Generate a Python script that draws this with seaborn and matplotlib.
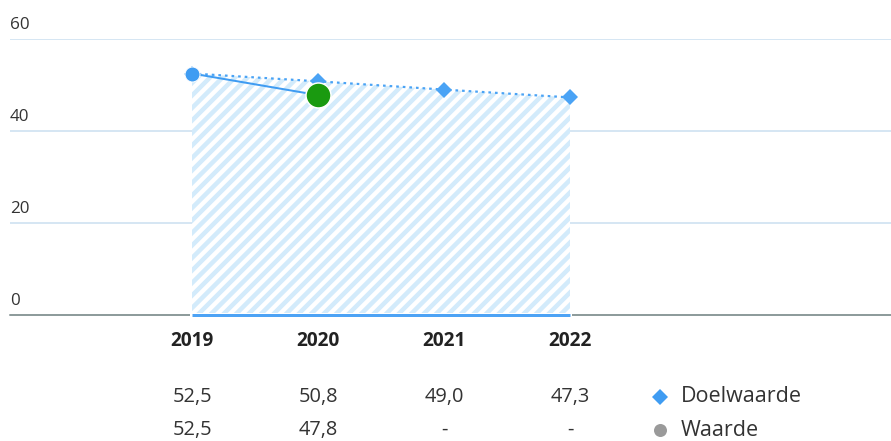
import matplotlib
matplotlib.use("Agg")
import matplotlib.pyplot as plt
import matplotlib.transforms as mtransforms
from matplotlib.lines import Line2D
import seaborn as sns
import pandas as pd
import numpy as np

years = ["2019", "2020", "2021", "2022"]
doelwaarde = [52.5, 50.8, 49.0, 47.3]
waarde = [52.5, 47.8, np.nan, np.nan]
doel_labels = ["52,5", "50,8", "49,0", "47,3"]
waarde_labels = ["52,5", "47,8", "-", "-"]
yticks = [0, 20, 40, 60]

DPI = 75
def px(v):
    return v * 72.0 / DPI

sns.set_theme(style="white")
plt.rcParams["font.family"] = ["Open Sans", "DejaVu Sans"]
plt.rcParams["hatch.color"] = "#d3ebfb"
plt.rcParams["hatch.linewidth"] = px(4.5)

W, H = 891, 441
fig = plt.figure(figsize=(W / DPI, H / DPI), dpi=DPI)
ax = fig.add_axes([10 / W, (H - 315) / H, 881 / W, 276 / H])

xpos = np.arange(len(years))
df = pd.DataFrame({"x": xpos, "doel": doelwaarde, "waarde": waarde})

blue = "#3f9cf2"
green = "#1a9a10"

# hatched area under target
ax.fill_between(df["x"], 0, df["doel"], facecolor="white", edgecolor="#d3ebfb",
                hatch="//", linewidth=0, zorder=1)

# grid lines
for v in yticks[1:]:
    ax.axhline(v, color="#d6e6f3", lw=px(2), zorder=0.5)
ax.axhline(0, color="#8e9c9c", lw=px(2), zorder=2, clip_on=False)
ax.plot([df["x"].iloc[0], df["x"].iloc[-1]], [0, 0], color="white", lw=px(4),
        solid_capstyle="projecting", zorder=2.5, clip_on=False)
ax.plot([df["x"].iloc[0], df["x"].iloc[-1]], [0, 0], color="#4da3f5", lw=px(3), zorder=3,
        solid_capstyle="butt", clip_on=False)

# target line
sns.lineplot(data=df, x="x", y="doel", ax=ax, color="#4aa3f5", lw=px(2.2),
             linestyle=(0, (1.2, 1.8)), marker="D", markersize=px(11),
             markeredgewidth=0, zorder=4)
# actual values
sns.lineplot(data=df.dropna(), x="x", y="waarde", ax=ax, color=blue, lw=px(2),
             zorder=5)
first = df.iloc[[0]]
ax.plot(first["x"], first["waarde"], marker="o", markersize=px(15), color=blue,
        markeredgecolor="white", markeredgewidth=px(1), zorder=6, linestyle="none")
last = df.dropna().iloc[[-1]]
ax.plot(last["x"], last["waarde"], marker="o", markersize=px(25), color=green,
        markeredgecolor="white", markeredgewidth=px(1.5), zorder=7, linestyle="none")

ax.set_xlim((10 - 192) / 126, (891 - 192) / 126)
ax.set_ylim(0, 60)
ax.set_xticks([])
ax.set_yticks([])
ax.set_xlabel("")
ax.set_ylabel("")
for s in ax.spines.values():
    s.set_visible(False)

# y tick labels above gridlines
trans_y = mtransforms.blended_transform_factory(ax.transAxes, ax.transData)
for v in yticks:
    ax.annotate(str(v), xy=(0, v), xycoords=trans_y, xytext=(px(0), px(6)),
                textcoords="offset points", ha="left", va="bottom",
                fontsize=px(17), color="#333333")

# year labels and table
trans_x = mtransforms.blended_transform_factory(ax.transData, fig.transFigure)
for i, (y, d, w) in enumerate(zip(years, doel_labels, waarde_labels)):
    ax.text(xpos[i], 1 - 341 / H, y, transform=trans_x, ha="center", va="center",
            fontsize=px(19), fontweight="bold", color="#222222")
    ax.text(xpos[i], 1 - 397 / H, d, transform=trans_x, ha="center", va="center",
            fontsize=px(20), color="#333333")
    ax.text(xpos[i], 1 - 430 / H, w, transform=trans_x, ha="center", va="center",
            fontsize=px(20), color="#333333")

# legend
fig.add_artist(Line2D([660 / W], [1 - 397 / H], marker="D", markersize=px(11),
                      color=blue, markeredgewidth=0, linestyle="none"))
fig.add_artist(Line2D([660 / W], [1 - 430 / H], marker="o", markersize=px(13),
                      color="#9a9a9a", markeredgewidth=0, linestyle="none"))
fig.text(681 / W, 1 - 397 / H, "Doelwaarde", ha="left", va="center",
         fontsize=px(21.5), color="#333333")
fig.text(681 / W, 1 - 430 / H, "Waarde", ha="left", va="center",
         fontsize=px(21.5), color="#333333")

fig.savefig("out.png", dpi=DPI)
